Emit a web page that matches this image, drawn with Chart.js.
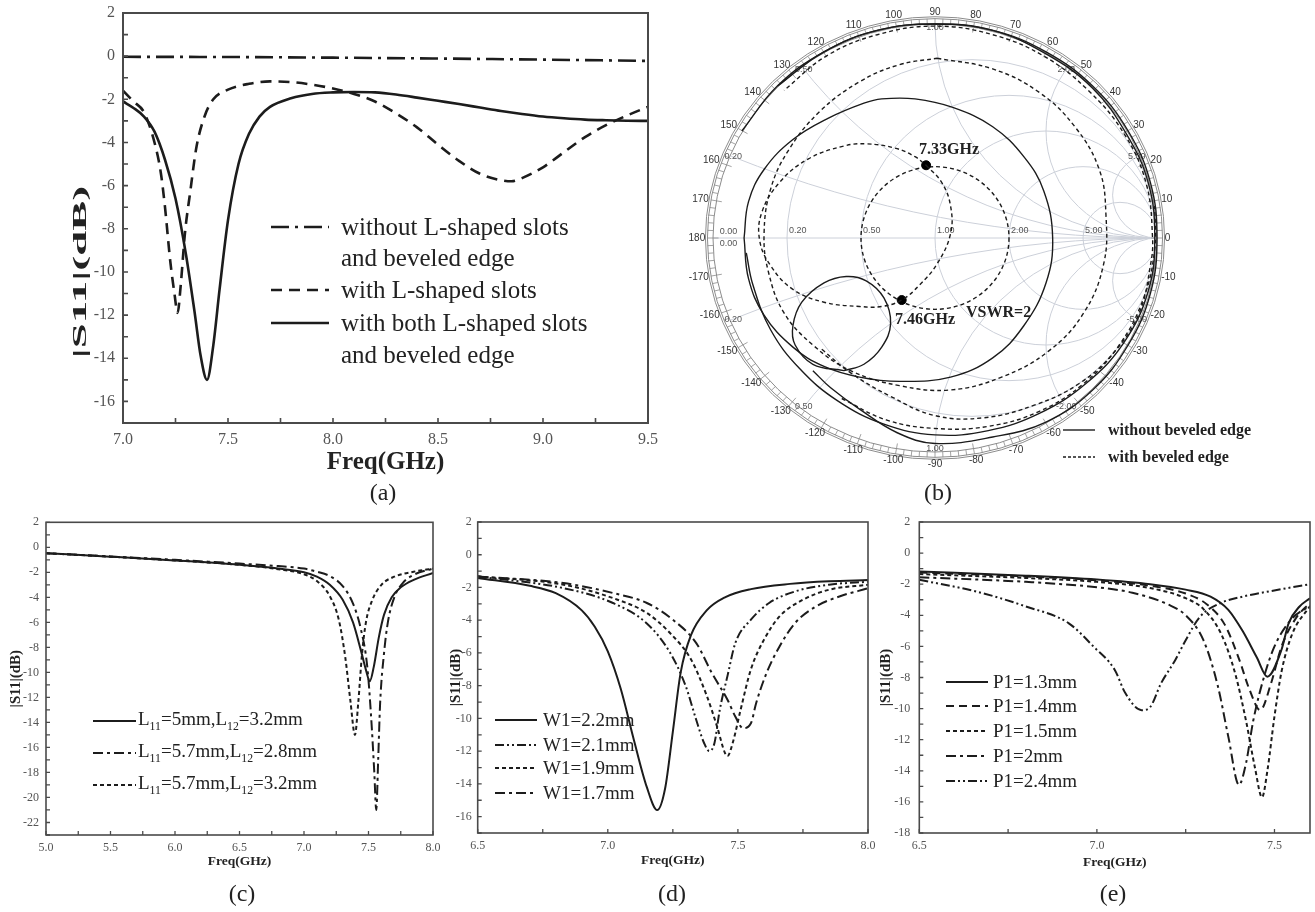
<!DOCTYPE html>
<html>
<head>
<meta charset="utf-8">
<script src="https://cdn.jsdelivr.net/npm/chart.js@4.4.1/dist/chart.umd.min.js"></script>
<style>
  body { margin: 0; background: #fff; width: 1315px; height: 912px; position: relative; overflow: hidden; }
  canvas { position: absolute; }
  .t { position: absolute; white-space: nowrap; color: #222; line-height: 1; font-family: "Liberation Serif", "Times New Roman", serif; }
  sub { font-size: 62%; vertical-align: -0.35em; }
</style>
</head>
<body>
<canvas id="ca" width="680" height="480" style="left:0;top:0"></canvas>
<canvas id="cb" width="570" height="480" style="left:680px;top:0"></canvas>
<canvas id="cc" width="450" height="375" style="left:0;top:500px"></canvas>
<canvas id="cd" width="440" height="375" style="left:440px;top:500px"></canvas>
<canvas id="ce" width="445" height="375" style="left:870px;top:500px"></canvas>
<svg id="ov" width="1315" height="912" style="position:absolute;left:0;top:0"></svg>
<script>
// ---- (a) |S11| vs frequency, 7.0 - 9.5 GHz
const aFreqNone = [7.0, 7.5, 8.0, 8.5, 9.0, 9.5];
const aNone = [-0.03, -0.04, -0.07, -0.11, -0.16, -0.22];
const aFreqSlot = [7.0, 7.05, 7.1, 7.15, 7.18, 7.2, 7.225, 7.245, 7.26, 7.275, 7.295, 7.32, 7.35, 7.39, 7.43, 7.5,
  7.6, 7.7, 7.8, 7.9, 8.0, 8.1, 8.2, 8.3, 8.4, 8.5, 8.6, 8.7, 8.8, 8.85, 8.9, 9.0, 9.1, 9.2, 9.3, 9.4, 9.5];
const aSlot = [-1.6, -2.1, -2.6, -4.0, -5.4, -7.0, -9.5, -11.0, -11.9, -10.6, -8.2, -6.3, -4.2, -2.75, -2.0, -1.55,
  -1.28, -1.17, -1.2, -1.32, -1.5, -1.75, -2.1, -2.65, -3.3, -4.1, -4.85, -5.45, -5.75, -5.8, -5.65, -5.15, -4.45, -3.75, -3.2, -2.75, -2.35];
const aFreqBoth = [7.0, 7.05, 7.1, 7.15, 7.2, 7.25, 7.3, 7.34, 7.37, 7.4, 7.43, 7.46, 7.5, 7.55, 7.6, 7.65, 7.7,
  7.8, 7.9, 8.0, 8.1, 8.2, 8.3, 8.4, 8.5, 8.6, 8.7, 8.8, 8.9, 9.0, 9.1, 9.2, 9.3, 9.4, 9.5];
const aBoth = [-2.1, -2.4, -2.8, -3.5, -4.8, -6.6, -9.2, -11.8, -13.9, -15.0, -13.4, -10.8, -7.6, -5.0, -3.6, -2.8, -2.35,
  -1.95, -1.75, -1.68, -1.66, -1.68, -1.78, -1.92, -2.07, -2.22, -2.38, -2.54, -2.68, -2.8, -2.88, -2.94, -2.97, -2.99, -3.0];

// ---- (c) L11 / L12 sweep
const cFreq1 = [5.0, 5.5, 6.0, 6.5, 6.8, 7.0, 7.1, 7.2, 7.3, 7.38, 7.44, 7.48, 7.51, 7.54, 7.58, 7.62, 7.68, 7.75, 7.85, 8.0];
const cL1 = [-0.47, -0.75, -1.05, -1.4, -1.7, -2.0, -2.35, -3.0, -4.2, -6.0, -8.2, -9.8, -10.7, -9.6, -7.2, -5.4, -4.0, -3.2, -2.6, -2.05];
const cFreq2 = [5.0, 5.5, 6.0, 6.5, 6.8, 7.0, 7.1, 7.2, 7.3, 7.38, 7.44, 7.49, 7.52, 7.545, 7.56, 7.575, 7.59, 7.62, 7.65, 7.7, 7.77, 7.85, 8.0];
const cL2 = [-0.47, -0.73, -1.0, -1.3, -1.5, -1.7, -1.95, -2.3, -3.1, -4.5, -6.5, -9.5, -13.5, -18, -21, -17, -12.5, -8.5, -6.0, -4.0, -2.8, -2.2, -1.7];
const cFreq3 = [5.0, 5.5, 6.0, 6.5, 6.8, 7.0, 7.1, 7.2, 7.27, 7.32, 7.36, 7.395, 7.42, 7.45, 7.48, 7.53, 7.6, 7.7, 7.85, 8.0];
const cL3 = [-0.47, -0.75, -1.05, -1.4, -1.75, -2.15, -2.7, -3.9, -5.8, -8.8, -12.3, -15.0, -12.5, -8.5, -6.0, -4.2, -3.0, -2.35, -1.95, -1.7];

// ---- (d) W1 sweep
const dFreq22 = [6.5, 6.7, 6.8, 6.9, 6.95, 7.0, 7.05, 7.1, 7.15, 7.19, 7.22, 7.25, 7.28, 7.32, 7.38, 7.45, 7.55, 7.7, 7.85, 8.0];
const dW22 = [-1.42, -1.9, -2.35, -3.4, -4.4, -5.9, -8.2, -11.3, -14.2, -15.6, -14.3, -10.8, -7.2, -4.9, -3.4, -2.6, -2.1, -1.78, -1.62, -1.55];
const dFreq21 = [6.5, 6.83, 7.02, 7.15, 7.24, 7.3, 7.34, 7.37, 7.39, 7.41, 7.43, 7.46, 7.49, 7.55, 7.62, 7.72, 7.85, 8.0];
const dW21 = [-1.33, -2.04, -2.95, -4.2, -6.0, -8.05, -10.1, -11.5, -12.0, -11.5, -9.5, -7.4, -5.4, -3.97, -2.95, -2.24, -1.83, -1.65];
const dFreq19 = [6.5, 6.83, 7.02, 7.15, 7.24, 7.32, 7.38, 7.42, 7.45, 7.46, 7.48, 7.51, 7.55, 7.6, 7.66, 7.75, 7.85, 8.0];
const dW19 = [-1.32, -1.83, -2.65, -3.56, -4.8, -6.4, -8.6, -10.5, -12.1, -12.3, -11.5, -9.5, -7.0, -5.2, -3.77, -2.75, -2.14, -1.83];
const dFreq17 = [6.5, 6.83, 7.02, 7.15, 7.25, 7.34, 7.4, 7.46, 7.49, 7.52, 7.55, 7.57, 7.61, 7.66, 7.72, 7.8, 7.89, 8.0];
const dW17 = [-1.33, -1.73, -2.34, -2.95, -3.97, -5.4, -7.23, -8.86, -9.88, -10.6, -10.3, -9.07, -7.23, -5.6, -4.17, -3.16, -2.55, -2.05];

// ---- (e) P1 sweep
const eFreq13 = [6.5, 6.8, 7.0, 7.15, 7.25, 7.32, 7.37, 7.41, 7.45, 7.48, 7.52, 7.54, 7.57, 7.6];
const eP13 = [-1.18, -1.45, -1.7, -2.0, -2.35, -2.8, -3.65, -5.0, -6.7, -7.95, -6.2, -4.5, -3.45, -2.9];
const eFreq14 = [6.5, 6.8, 7.0, 7.15, 7.25, 7.31, 7.36, 7.4, 7.43, 7.46, 7.49, 7.52, 7.56, 7.6];
const eP14 = [-1.25, -1.5, -1.75, -2.1, -2.6, -3.3, -4.6, -6.8, -8.8, -10.1, -8.4, -6.0, -4.2, -3.2];
const eFreq15 = [6.5, 6.8, 7.0, 7.15, 7.25, 7.3, 7.35, 7.39, 7.42, 7.445, 7.465, 7.48, 7.5, 7.52, 7.55, 7.6];
const eP15 = [-1.35, -1.6, -1.85, -2.25, -2.9, -3.6, -5.2, -7.8, -10.8, -13.8, -15.7, -14.0, -10.5, -7.6, -5.2, -3.4];
const eFreq20 = [6.5, 6.8, 7.0, 7.1, 7.2, 7.25, 7.3, 7.34, 7.37, 7.4, 7.42, 7.44, 7.47, 7.5, 7.55, 7.6];
const eP20 = [-1.55, -1.85, -2.2, -2.55, -3.3, -4.0, -5.6, -8.5, -11.8, -14.9, -13.5, -10.8, -8.0, -6.0, -4.2, -3.4];
const eFreq24 = [6.5, 6.66, 6.8, 6.92, 6.99, 7.05, 7.08, 7.126, 7.15, 7.18, 7.22, 7.25, 7.29, 7.35, 7.41, 7.51, 7.6];
const eP24 = [-1.72, -2.47, -3.43, -4.5, -6.0, -7.5, -9.0, -10.1, -9.9, -8.4, -6.9, -5.6, -4.1, -3.2, -2.8, -2.36, -2.0];

// ---- (b) Smith chart, reflection coefficient (real, imag)
const smLoopRe = [-0.86, -0.84, -0.77, -0.64, -0.48, -0.32, -0.24, -0.09, 0.08, 0.26, 0.40, 0.49, 0.53, 0.50, 0.40, 0.26, 0.07, -0.16, -0.34, -0.50, -0.64, -0.77, -0.84, -0.86];
const smLoopIm = [0.00, 0.17, 0.32, 0.46, 0.56, 0.63, 0.65, 0.65, 0.61, 0.52, 0.38, 0.22, 0.00, -0.21, -0.41, -0.56, -0.65, -0.67, -0.65, -0.60, -0.51, -0.36, -0.19, 0.00];
const smSmallRe = [-0.41, -0.55, -0.63, -0.64, -0.60, -0.50, -0.40, -0.31, -0.23, -0.20, -0.24, -0.32, -0.41];
const smSmallIm = [-0.62, -0.59, -0.50, -0.41, -0.30, -0.21, -0.18, -0.20, -0.28, -0.40, -0.51, -0.59, -0.62];
const smArc1Re = [-0.87, -0.71, -0.50, -0.26, 0.00, 0.26, 0.50, 0.71, 0.86, 0.96, 0.99, 0.96, 0.85, 0.68, 0.47, 0.24, 0.00, -0.23, -0.44, -0.61, -0.74, -0.82, -0.85];
const smArc1Im = [0.50, 0.71, 0.87, 0.97, 1.00, 0.97, 0.86, 0.70, 0.49, 0.26, 0.00, -0.25, -0.49, -0.68, -0.82, -0.90, -0.92, -0.87, -0.76, -0.61, -0.43, -0.22, -0.07];
const smArc2Re = [-0.71, -0.50, -0.26, 0.00, 0.26, 0.50, 0.71, 0.87, 0.97, 1.00, 0.97, 0.87, 0.71, 0.50, 0.26, 0.00, -0.17, -0.34, -0.47, -0.55];
const smArc2Im = [0.71, 0.87, 0.97, 1.00, 0.97, 0.87, 0.71, 0.50, 0.26, 0.00, -0.26, -0.50, -0.71, -0.86, -0.93, -0.96, -0.91, -0.80, -0.70, -0.62];
const bvLoopRe = [-0.04, 0.03, 0.07, 0.07, 0.01, -0.07, -0.15, -0.24, -0.34, -0.50, -0.64, -0.74, -0.79, -0.78, -0.70, -0.57, -0.41, -0.31, -0.18, -0.09, -0.04];
const bvLoopIm = [0.34, 0.26, 0.15, 0.02, -0.12, -0.22, -0.29, -0.32, -0.32, -0.30, -0.24, -0.13, -0.01, 0.12, 0.26, 0.37, 0.43, 0.44, 0.42, 0.38, 0.34];
const bvBigRe = [0.01, 0.26, 0.47, 0.63, 0.74, 0.77, 0.76, 0.67, 0.51, 0.30, 0.07, -0.16, -0.38, -0.55, -0.68, -0.75, -0.77, -0.74, -0.66, -0.52, -0.34, -0.16, 0.01];
const bvBigIm = [0.84, 0.79, 0.68, 0.52, 0.32, 0.11, -0.12, -0.35, -0.53, -0.65, -0.71, -0.69, -0.62, -0.50, -0.35, -0.16, 0.02, 0.23, 0.41, 0.59, 0.73, 0.81, 0.84];
const bvArc1Re = [-0.51, -0.38, -0.20, 0.00, 0.22, 0.45, 0.65, 0.81, 0.92, 0.97, 0.98, 0.95, 0.85, 0.69, 0.49, 0.26, 0.00, -0.26, -0.49, -0.68];
const bvArc1Im = [-0.52, -0.63, -0.74, -0.83, -0.84, -0.78, -0.68, -0.53, -0.35, -0.13, 0.00, 0.26, 0.49, 0.69, 0.85, 0.95, 0.99, 0.95, 0.85, 0.69];
const bvArc2Re = [-0.42, -0.22, 0.00, 0.24, 0.47, 0.67, 0.83, 0.94, 0.99, 0.99];
const bvArc2Im = [-0.75, -0.85, -0.89, -0.88, -0.81, -0.68, -0.50, -0.28, -0.05, 0.15];
const markRe = [-0.04, -0.15];   // 7.33GHz, 7.46GHz
const markIm = [0.34, -0.29];
const vswr = 2;
const gridValues = [0.2, 0.5, 1, 2, 5];
const posXLabels = ['0.20', '0.50', '1.00', '2.00', '5.00'];
const negXLabels = ['0.20', '0.50', '1.00', '-2.00', '-5.00'];
const ringAngles = [0, 10, 20, 30, 40, 50, 60, 70, 80, 90, 100, 110, 120, 130, 140, 150, 160, 170, 180,
  -10, -20, -30, -40, -50, -60, -70, -80, -90, -100, -110, -120, -130, -140, -150, -160, -170];

const serif = '"Liberation Serif", "Times New Roman", serif';
const sans = '"Liberation Sans", Arial, sans-serif';
const ink = '#1c1c1c';

function pts(xs, ys) {
    return xs.map((v, i) => ({ x: v, y: ys[i] }));
}

function isHalf(v) {
    return Math.abs(v * 2 - Math.round(v * 2)) < 1e-6;
}

// box around the plot area and inward tick marks
const frameTicks = {
    id: 'frameTicks',
    afterDatasetsDraw(chart, args, o) {
        const { ctx, chartArea: a, scales: { x, y } } = chart;
        ctx.save();
        ctx.setLineDash([]);
        ctx.strokeStyle = '#4a4a4a';
        ctx.lineWidth = o.lw;
        ctx.strokeRect(a.left, a.top, a.right - a.left, a.bottom - a.top);
        ctx.beginPath();
        for (let v = x.min; v <= x.max + 1e-6; v += o.xStep) {
            const p = x.getPixelForValue(v);
            ctx.moveTo(p, a.bottom);
            ctx.lineTo(p, a.bottom - o.len);
        }
        for (let v = y.min; v <= y.max + 1e-6; v += 1) {
            const p = y.getPixelForValue(v);
            ctx.moveTo(a.left, p);
            ctx.lineTo(a.left + o.len, p);
        }
        ctx.lineWidth = o.lw * 0.8;
        ctx.stroke();
        ctx.restore();
    }
};

function panel(id, o) {
    return new Chart(document.getElementById(id), {
        type: 'line',
        data: {
            datasets: o.series.map(s => ({
                data: pts(s[0], s[1]),
                borderDash: s[2],
                borderColor: ink,
                borderWidth: o.lw,
                pointRadius: 0,
                fill: false,
                cubicInterpolationMode: 'monotone'
            }))
        },
        options: {
            responsive: false,
            animation: false,
            events: [],
            layout: { padding: o.pad, autoPadding: false },
            plugins: {
                legend: { display: false },
                tooltip: { enabled: false },
                frameTicks: { xStep: o.xStep, len: o.tickLen, lw: o.frameW }
            },
            scales: {
                x: {
                    type: 'linear', min: o.x[0], max: o.x[1],
                    afterFit: s => { s.height = o.xH; s.paddingLeft = 0; s.paddingRight = 0; },
                    grid: { display: false, drawTicks: false },
                    border: { display: false },
                    ticks: {
                        stepSize: o.xStep, autoSkip: false, maxRotation: 0, maxTicksLimit: 200,
                        padding: o.xPad, color: '#555', font: { family: serif, size: o.tick },
                        callback: v => isHalf(v) ? v.toFixed(1) : ''
                    },
                    title: {
                        display: true, text: 'Freq(GHz)', color: '#222',
                        font: { family: serif, size: o.xTitle[0], weight: 'bold' },
                        padding: { top: 0, bottom: o.xTitle[1] }
                    }
                },
                y: {
                    type: 'linear', min: o.y[0], max: o.y[1],
                    afterFit: s => { s.width = o.yW; s.paddingTop = 0; s.paddingBottom = 0; },
                    grid: { display: false, drawTicks: false },
                    border: { display: false },
                    ticks: {
                        stepSize: 1, autoSkip: false, maxTicksLimit: 200,
                        padding: o.yPad, color: '#555', font: { family: serif, size: o.tick },
                        callback: v => (v % 2 === 0 ? String(v) : '')
                    },
                    title: o.yTitle ? {
                        display: true, text: '|S11|(dB)', color: '#222',
                        font: { family: serif, size: o.yTitle[0], weight: 'bold' },
                        padding: { top: o.yTitle[1], bottom: 0 }
                    } : { display: false }
                }
            }
        },
        plugins: [frameTicks]
    });
}

// (a)
panel('ca', {
    series: [[aFreqNone, aNone, [18, 6, 3, 6]], [aFreqSlot, aSlot, [11, 7]], [aFreqBoth, aBoth, []]],
    x: [7.0, 9.5], y: [-17, 2], xStep: 0.25, lw: 2.6, tick: 16, tickLen: 5, frameW: 2,
    pad: { left: 0, top: 13, right: 32, bottom: 0 }, yW: 123, xH: 57, xPad: 7, yPad: 8,
    xTitle: [25, 2], yTitle: null
});
// (c)
panel('cc', {
    series: [[cFreq1, cL1, []], [cFreq2, cL2, [10, 4, 3, 4]], [cFreq3, cL3, [4, 3]]],
    x: [5.0, 8.0], y: [-23, 2], xStep: 0.25, lw: 2, tick: 12, tickLen: 4, frameW: 1.6,
    pad: { left: 0, top: 22.3, right: 17, bottom: 0 }, yW: 46, xH: 40, xPad: 6, yPad: 7,
    xTitle: [13.5, 5], yTitle: [15, 7]
});
// (d)
panel('cd', {
    series: [[dFreq22, dW22, []], [dFreq21, dW21, [9, 3, 2, 3, 2, 3]], [dFreq19, dW19, [4, 3]], [dFreq17, dW17, [10, 4, 3, 4]]],
    x: [6.5, 8.0], y: [-17, 2], xStep: 0.25, lw: 2, tick: 12, tickLen: 4, frameW: 1.6,
    pad: { left: 0, top: 22, right: 12, bottom: 0 }, yW: 37.7, xH: 42, xPad: 6, yPad: 6,
    xTitle: [13.5, 6.5], yTitle: [15, 7]
});
// (e)
panel('ce', {
    series: [[eFreq13, eP13, []], [eFreq14, eP14, [8, 5]], [eFreq15, eP15, [4, 3]], [eFreq20, eP20, [10, 4, 3, 4]], [eFreq24, eP24, [9, 3, 2, 3, 2, 3]]],
    x: [6.5, 7.6], y: [-18, 2], xStep: 0.25, lw: 2, tick: 12, tickLen: 4, frameW: 1.6,
    pad: { left: 0, top: 22, right: 5, bottom: 0 }, yW: 49.3, xH: 42, xPad: 6, yPad: 9,
    xTitle: [13.5, 4], yTitle: [15, 7]
});

// Smith chart background: resistance / reactance circles, angle ring, VSWR circle
const smithGrid = {
    id: 'smithGrid',
    beforeDatasetsDraw(chart) {
        const { ctx, scales: { x, y } } = chart;
        const cx = x.getPixelForValue(0), cy = y.getPixelForValue(0);
        const Rx = x.getPixelForValue(1) - cx, Ry = cy - y.getPixelForValue(1);
        const TAU = Math.PI * 2;
        const oval = (re, im, k) => {
            ctx.beginPath();
            ctx.ellipse(cx + re * Rx, cy - im * Ry, k * Rx, k * Ry, 0, 0, TAU);
        };
        ctx.save();
        oval(0, 0, 1);
        ctx.clip();
        ctx.strokeStyle = '#ccd0d9';
        ctx.lineWidth = 1;
        gridValues.forEach(r => { oval(r / (1 + r), 0, 1 / (1 + r)); ctx.stroke(); });
        gridValues.forEach(v => {
            oval(1, 1 / v, 1 / v); ctx.stroke();
            oval(1, -1 / v, 1 / v); ctx.stroke();
        });
        ctx.beginPath();
        ctx.moveTo(cx - Rx, cy);
        ctx.lineTo(cx + Rx, cy);
        ctx.stroke();
        ctx.restore();

        // angle ring
        ctx.save();
        ctx.strokeStyle = '#8c8c8c';
        ctx.lineWidth = 1;
        [1.0, 1.025, 1.034].forEach(k => { oval(0, 0, k); ctx.stroke(); });
        ctx.beginPath();
        for (let a = 0; a < 360; a += 2) {
            const t = a * Math.PI / 180, c = Math.cos(t), s = Math.sin(t);
            const r0 = a % 10 === 0 ? 0.975 : 1.0;
            ctx.moveTo(cx + c * Rx * r0, cy - s * Ry * r0);
            ctx.lineTo(cx + c * Rx * 1.025, cy - s * Ry * 1.025);
        }
        ctx.lineWidth = 0.8;
        ctx.stroke();

        ctx.fillStyle = '#333';
        ctx.font = '10px ' + sans;
        ctx.textAlign = 'center';
        ctx.textBaseline = 'middle';
        ringAngles.forEach(a => {
            const t = a * Math.PI / 180, c = Math.cos(t), s = Math.sin(t);
            const txt = String(a);
            const w = ctx.measureText(txt).width, h = 9;
            ctx.fillText(txt, cx + c * (Rx * 1.035 + w / 2), cy - s * (Ry * 1.035 + h / 2));
        });

        // grid value labels
        ctx.fillStyle = '#555';
        ctx.font = '9px ' + sans;
        ctx.textAlign = 'left';
        gridValues.forEach((r, i) => {
            const g = (r - 1) / (r + 1);
            ctx.fillText(posXLabels[i], cx + g * Rx + 2, cy - 7);
        });
        ctx.fillText('0.00', cx - Rx * 0.97, cy - 6);
        ctx.fillText('0.00', cx - Rx * 0.97, cy + 6);
        ctx.textAlign = 'center';
        gridValues.forEach((v, i) => {
            const gr = (v * v - 1) / (v * v + 1), gi = 2 * v / (v * v + 1);
            ctx.fillText(posXLabels[i], cx + gr * Rx * 0.985, cy - gi * Ry * 0.985);
            ctx.fillText(negXLabels[i], cx + gr * Rx * 0.985, cy + gi * Ry * 0.985);
        });

        // VSWR = 2 circle
        ctx.strokeStyle = ink;
        ctx.lineWidth = 1.4;
        ctx.setLineDash([4, 3]);
        oval(0, 0, (vswr - 1) / (vswr + 1));
        ctx.stroke();
        ctx.restore();
    }
};

function smithSet(re, im, dash) {
    return {
        data: pts(re, im), showLine: true, borderColor: ink, borderWidth: 1.4,
        borderDash: dash, pointRadius: 0, tension: 0.4, fill: false
    };
}

new Chart(document.getElementById('cb'), {
    type: 'scatter',
    data: {
        datasets: [
            smithSet(smLoopRe, smLoopIm, []),
            smithSet(smSmallRe, smSmallIm, []),
            smithSet(smArc1Re, smArc1Im, []),
            smithSet(smArc2Re, smArc2Im, []),
            smithSet(bvLoopRe, bvLoopIm, [4, 3]),
            smithSet(bvBigRe, bvBigIm, [4, 3]),
            smithSet(bvArc1Re, bvArc1Im, [4, 3]),
            smithSet(bvArc2Re, bvArc2Im, [4, 3]),
            { data: pts(markRe, markIm), showLine: false, pointRadius: 4.5, pointBackgroundColor: '#000', pointBorderColor: '#000' }
        ]
    },
    options: {
        responsive: false,
        animation: false,
        events: [],
        layout: { padding: { left: 10.8, top: 2.6, right: 70.8, bottom: 6.6 }, autoPadding: false },
        plugins: { legend: { display: false }, tooltip: { enabled: false } },
        scales: {
            x: { type: 'linear', min: -1.1, max: 1.1, display: false },
            y: { type: 'linear', min: -1.1, max: 1.1, display: false }
        }
    },
    plugins: [smithGrid]
});

// ---- text overlays and legend samples
const ov = document.getElementById('ov');
function sample(x0, x1, y, dash, lw) {
    const l = document.createElementNS('http://www.w3.org/2000/svg', 'line');
    l.setAttribute('x1', x0); l.setAttribute('x2', x1);
    l.setAttribute('y1', y); l.setAttribute('y2', y);
    l.setAttribute('stroke', ink);
    l.setAttribute('stroke-width', lw);
    if (dash.length) l.setAttribute('stroke-dasharray', dash.join(' '));
    ov.appendChild(l);
}
function text(html, x, y, font, center, extra) {
    const d = document.createElement('div');
    d.className = 't';
    d.innerHTML = html;
    d.style.left = x + 'px';
    d.style.top = y + 'px';
    d.style.font = font;
    d.style.transform = 'translate(' + (center ? '-50%' : '0') + ',-50%)' + (extra || '');
    document.body.appendChild(d);
}

const legA = [
    { y: 227, dash: [18, 6, 3, 6], label: 'without L-shaped slots' },
    { y: 258, dash: null, label: 'and beveled edge' },
    { y: 290, dash: [11, 7], label: 'with L-shaped slots' },
    { y: 323, dash: [], label: 'with both L-shaped slots' },
    { y: 355, dash: null, label: 'and beveled edge' }
];
legA.forEach(e => {
    if (e.dash) sample(271, 329, e.y, e.dash, 2.6);
    text(e.label, 341, e.y, '25px ' + serif, false);
});
text('|S11|(dB)', 80, 272, 'bold 18px ' + serif, true, ' rotate(-90deg) scaleX(2.5)');

const legC = [
    { y: 721, dash: [], label: 'L<sub>11</sub>=5mm,L<sub>12</sub>=3.2mm' },
    { y: 753, dash: [10, 4, 3, 4], label: 'L<sub>11</sub>=5.7mm,L<sub>12</sub>=2.8mm' },
    { y: 785, dash: [4, 3], label: 'L<sub>11</sub>=5.7mm,L<sub>12</sub>=3.2mm' }
];
legC.forEach(e => { sample(93, 136, e.y, e.dash, 2); text(e.label, 138, e.y, '19px ' + serif, false); });

const legD = [
    { y: 720, dash: [], label: 'W1=2.2mm' },
    { y: 745, dash: [9, 3, 2, 3, 2, 3], label: 'W1=2.1mm' },
    { y: 768, dash: [4, 3], label: 'W1=1.9mm' },
    { y: 793, dash: [10, 4, 3, 4], label: 'W1=1.7mm' }
];
legD.forEach(e => { sample(495, 537, e.y, e.dash, 2); text(e.label, 543, e.y, '19px ' + serif, false); });

const legE = [
    { y: 682, dash: [], label: 'P1=1.3mm' },
    { y: 706, dash: [8, 5], label: 'P1=1.4mm' },
    { y: 731, dash: [4, 3], label: 'P1=1.5mm' },
    { y: 756, dash: [10, 4, 3, 4], label: 'P1=2mm' },
    { y: 781, dash: [9, 3, 2, 3, 2, 3], label: 'P1=2.4mm' }
];
legE.forEach(e => { sample(946, 988, e.y, e.dash, 2); text(e.label, 993, e.y, '19px ' + serif, false); });

// Smith chart legend and annotations
sample(1063, 1095, 430, [], 1.4);
sample(1063, 1095, 457, [3, 2], 1.4);
text('without beveled edge', 1108, 430, 'bold 16px ' + serif, false);
text('with beveled edge', 1108, 457, 'bold 16px ' + serif, false);
text('7.33GHz', 919, 149, 'bold 16px ' + serif, false);
text('7.46GHz', 895, 319, 'bold 16px ' + serif, false);
text('VSWR=2', 966, 312, 'bold 16px ' + serif, false);

// panel captions
[['(a)', 383, 492], ['(b)', 938, 492], ['(c)', 242, 893], ['(d)', 672, 893], ['(e)', 1113, 893]]
    .forEach(p => text(p[0], p[1], p[2], '24px ' + serif, true));
</script>
</body>
</html>
